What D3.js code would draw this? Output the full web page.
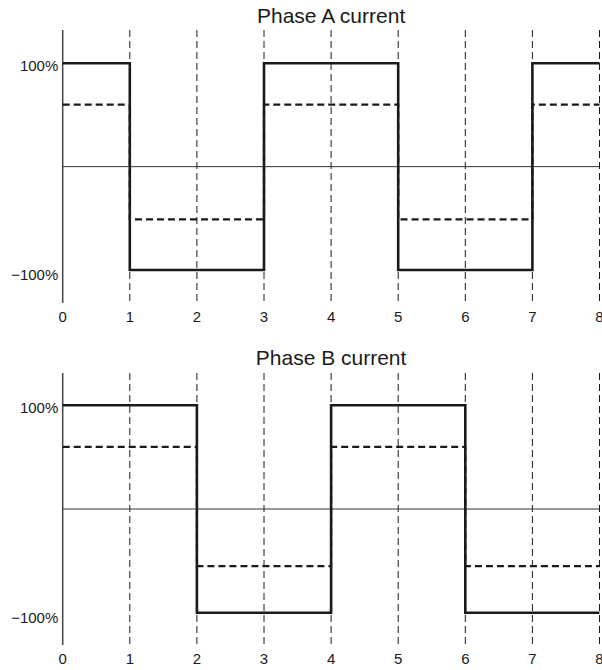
<!DOCTYPE html>
<html>
<head>
<meta charset="utf-8">
<script src="https://cdn.jsdelivr.net/npm/d3@7"></script>
<style>
  html, body { margin: 0; padding: 0; background: #fff; }
  svg { display: block; }
  text { font-family: "Liberation Sans", Arial, Helvetica, sans-serif; fill: #1a1a1a; }
</style>
</head>
<body>
<svg id="chart" width="602" height="670"></svg>
<script>
// ---- data ----
const xTicks = [0, 1, 2, 3, 4, 5, 6, 7, 8];
const yTickValues = [1, -1];
const yTickLabels = ["100%", "\u2212100%"];
const titles = ["Phase A current", "Phase B current"];

const phaseATimes = [0, 1, 3, 5, 7, 8];
const phaseAFull = [1, -1, 1, -1, 1, 1];
const phaseAReduced = [0.6, -0.51, 0.6, -0.51, 0.6, 0.6];

const phaseBTimes = [0, 2, 4, 6, 8];
const phaseBFull = [1, -1, 1, -1, -1];
const phaseBReduced = [0.6, -0.55, 0.6, -0.55, -0.55];

// ---- layout ----
const svg = d3.select("#chart");
const x = d3.scaleLinear().domain([0, 8]).range([62.7, 599.5]);

const panels = [
  { title: titles[0], times: phaseATimes, full: phaseAFull, reduced: phaseAReduced,
    top: 30, bottom: 303, yPos: 63.3, yNeg: 270, titleY: 23.3, labelY: 322.3 },
  { title: titles[1], times: phaseBTimes, full: phaseBFull, reduced: phaseBReduced,
    top: 373, bottom: 645, yPos: 405.3, yNeg: 612.7, titleY: 365, labelY: 663.5 }
];

panels.forEach(p => {
  const y = d3.scaleLinear().domain([-1, 1]).range([p.yNeg, p.yPos]);
  const g = svg.append("g");

  // title
  g.append("text")
    .attr("x", (x(0) + x(8)) / 2)
    .attr("y", p.titleY)
    .attr("text-anchor", "middle")
    .style("font-size", "21px")
    .text(p.title);

  // vertical dashed gridlines
  g.selectAll("line.grid")
    .data(xTicks.filter(d => d > 0))
    .enter().append("line")
    .attr("class", "grid")
    .attr("x1", d => x(d)).attr("x2", d => x(d))
    .attr("y1", p.top).attr("y2", p.bottom)
    .attr("stroke", "#1a1a1a")
    .attr("stroke-width", 1)
    .attr("stroke-dasharray", "7,4");

  // zero line
  g.append("line")
    .attr("x1", x(0)).attr("x2", x(8))
    .attr("y1", y(0)).attr("y2", y(0))
    .attr("stroke", "#333")
    .attr("stroke-width", 1);

  // y axis line
  g.append("line")
    .attr("x1", x(0)).attr("x2", x(0))
    .attr("y1", p.top).attr("y2", p.bottom)
    .attr("stroke", "#444")
    .attr("stroke-width", 1.5);

  // y labels
  g.selectAll("text.ylab")
    .data(yTickValues)
    .enter().append("text")
    .attr("class", "ylab")
    .attr("x", 58.3)
    .attr("y", (d) => y(d) + (d > 0 ? 7.5 : 10))
    .attr("text-anchor", "end")
    .style("font-size", "15px")
    .text((d, i) => yTickLabels[i]);

  // x labels
  g.selectAll("text.xlab")
    .data(xTicks)
    .enter().append("text")
    .attr("class", "xlab")
    .attr("x", d => x(d))
    .attr("y", p.labelY)
    .attr("text-anchor", "middle")
    .style("font-size", "15px")
    .text(d => d);

  const line = d3.line().x(d => x(d[0])).y(d => y(d[1])).curve(d3.curveStepAfter);

  // reduced (dashed) waveform
  g.append("path")
    .datum(p.times.map((t, i) => [t, p.reduced[i]]))
    .attr("d", line)
    .attr("fill", "none")
    .attr("stroke", "#1a1a1a")
    .attr("stroke-width", 2.2)
    .attr("stroke-dasharray", "7,4");

  // full (solid) waveform
  g.append("path")
    .datum(p.times.map((t, i) => [t, p.full[i]]))
    .attr("d", line)
    .attr("fill", "none")
    .attr("stroke", "#1a1a1a")
    .attr("stroke-width", 2.6);
});
</script>
</body>
</html>
